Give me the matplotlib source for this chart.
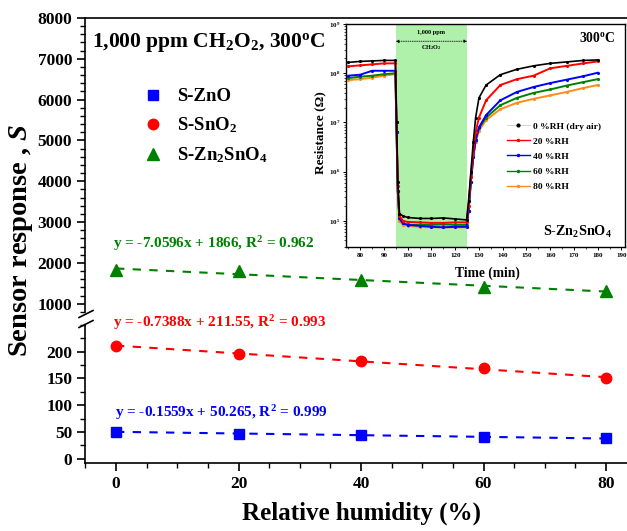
import numpy as np
import matplotlib
matplotlib.use("Agg")
import matplotlib.pyplot as plt
import matplotlib.ticker as mt
from matplotlib.lines import Line2D

plt.rcParams.update({
    'font.family': ['Liberation Serif', 'DejaVu Serif'],
    'font.weight': 'bold',
    'mathtext.fontset': 'custom',
    'mathtext.rm': 'Liberation Serif:bold',
    'mathtext.it': 'Liberation Serif:italic:bold',
    'mathtext.bf': 'Liberation Serif:bold',
    'mathtext.default': 'rm',
    'axes.linewidth': 1.2,
})

# ---------------- main data ----------------
rh = [0, 20, 40, 60, 80]
s_zno = [50, 47, 45, 41, 38]
s_sno2 = [210, 196, 182, 170, 151]
s_zto = [1835, 1795, 1590, 1410, 1315]

labels_main = ['S-ZnO', 'S-SnO$_2$', 'S-Zn$_2$SnO$_4$']
slopes = [-0.1559, -0.7388, -7.0596]
intercepts = [50.265, 211.55, 1866]
r2 = [0.999, 0.993, 0.962]

c_blue, c_red, c_green = '#0000ff', '#ff0000', '#008000'

# ---------------- inset data (log10 of resistance) ----------------
t_min = [75, 80, 85, 90, 94.8, 95.3, 95.8, 96.5, 98, 100, 105, 110, 115, 120, 124.8,
         125.6, 126.6, 127.6, 128.6, 130, 133, 139, 146, 153, 160, 167, 174, 180]
logR_0 = [8.22, 8.24, 8.25, 8.26, 8.26, 7.0, 5.8, 5.15, 5.1, 5.07, 5.05, 5.05, 5.06, 5.04, 5.02,
          5.4, 6.0, 6.6, 7.1, 7.5, 7.76, 7.97, 8.08, 8.15, 8.2, 8.23, 8.26, 8.27]
logR_20 = [8.14, 8.16, 8.18, 8.2, 8.2, 7.0, 5.7, 5.1, 5.0, 4.98, 4.97, 4.96, 4.96, 4.97, 4.97,
           5.3, 5.9, 6.4, 6.8, 7.1, 7.45, 7.76, 7.88, 7.95, 8.1, 8.15, 8.2, 8.24]
logR_40 = [7.95, 7.97, 8.05, 8.05, 8.05, 6.8, 5.6, 5.05, 4.95, 4.92, 4.9, 4.88, 4.87, 4.88, 4.88,
           5.2, 5.8, 6.3, 6.65, 6.9, 7.15, 7.45, 7.62, 7.72, 7.8, 7.87, 7.94, 8.01]
logR_60 = [7.9, 7.93, 7.95, 7.98, 8.0, 6.8, 5.6, 5.05, 4.95, 4.92, 4.92, 4.92, 4.93, 4.92, 4.92,
           5.2, 5.8, 6.3, 6.65, 6.88, 7.1, 7.35, 7.5, 7.6, 7.67, 7.75, 7.82, 7.88]
logR_80 = [7.86, 7.88, 7.91, 7.95, 7.98, 6.8, 5.6, 5.0, 4.92, 4.9, 4.88, 4.87, 4.87, 4.87, 4.87,
           5.2, 5.8, 6.3, 6.6, 6.83, 7.05, 7.27, 7.4, 7.48, 7.55, 7.62, 7.7, 7.76]
inset_labels = ['0 %RH (dry air)', '20 %RH', '40 %RH', '60 %RH', '80 %RH']
inset_colors = ['#000000', '#ff0000', '#0000ff', '#008000', '#ff8c1a']
gas_on, gas_off = 95, 125

# ---------------- figure ----------------
W, H = 627, 531
fig = plt.figure(figsize=(W / 100, H / 100), dpi=100)

def P(x, y):
    return x / W, 1 - y / H

L = 85.4 / W
Wd = 551.25 / W
ax_top = fig.add_axes([L, 1 - 312 / H, Wd, (312 - 18) / H])
ax_bot = fig.add_axes([L, 1 - 463 / H, Wd, (463 - 325) / H])

for ax in (ax_top, ax_bot):
    ax.set_xlim(-5, 85)
    ax.spines['right'].set_visible(False)
    ax.tick_params(which='major', direction='out', length=6, width=1.2, labelsize=12.5)
    ax.tick_params(which='minor', direction='out', length=3.5, width=1.0)
    ax.patch.set_alpha(0)
ax_top.spines['bottom'].set_visible(False)
ax_bot.spines['top'].set_visible(False)
ax_top.tick_params(which='both', bottom=False, labelbottom=False)

ax_top.set_ylim(800, 8000)
ax_top.set_yticks(range(1000, 8001, 1000))
ax_top.yaxis.set_minor_locator(mt.MultipleLocator(200))
ax_bot.set_ylim(-8, 250)
ax_bot.set_yticks(range(0, 201, 50))
ax_bot.yaxis.set_minor_locator(mt.MultipleLocator(25))
ax_bot.set_xticks(rh)
ax_bot.xaxis.set_minor_locator(mt.MultipleLocator(5))

xfit = np.array([rh[0], rh[-1]])
handles = []
for ax, ys, mk, ms, col, m, b in [
        (ax_bot, s_zno, 's', 7, c_blue, slopes[0], intercepts[0]),
        (ax_bot, s_sno2, 'o', 7.5, c_red, slopes[1], intercepts[1]),
        (ax_top, s_zto, '^', 8, c_green, slopes[2], intercepts[2])]:
    ax.plot(xfit, m * xfit + b, ls=(0, (4, 4)), color=col, lw=1.5, zorder=2)
    h, = ax.plot(rh, ys, mk, color=col, ms=ms, ls='none', zorder=3)
    handles.append(h)

def eq(m, b, r):
    return f"y = {m}x + {b}, R$^2$ = {r}"

ax_top.text(-0.5, 2480, eq(slopes[2], intercepts[2], r2[2]), color=c_green, fontsize=11, va='center')
ax_bot.text(-0.5, 254, eq(slopes[1], intercepts[1], r2[1]), color=c_red, fontsize=11, va='center', clip_on=False)
ax_bot.text(-0.2, 86, eq(slopes[0], intercepts[0], r2[0]), color=c_blue, fontsize=11, va='center')

ax_top.legend(handles, labels_main, loc='upper left', bbox_to_anchor=(0.106, 0.762),
              frameon=False, fontsize=13.5, handlelength=1.0, handletextpad=0.75,
              borderpad=0, borderaxespad=0, labelspacing=0.55, numpoints=1)

fig.text(*P(92, 42), '1,000 ppm CH$_2$O$_2$, 300$^o$C', fontsize=15.5, va='center', ha='left')
fig.text(*P(21, 240), 'Sensor response , $\\mathit{S}$', rotation=90, fontsize=20.5, ha='center', va='center')
fig.text(*P(361, 513), 'Relative humidity (%)', fontsize=18, ha='center', va='center')

# break marks
for yc in (314, 324):
    fig.add_artist(Line2D([79 / W, 93 / W], [1 - (yc + 3.5) / H, 1 - (yc - 3.5) / H], color='k', lw=1.2))

# ---------------- inset ----------------
axi = fig.add_axes([346 / W, 1 - 247 / H, 279 / W, 223 / H])
axi.set_yscale('log')
axi.set_xlim(74, 191.5)
axi.set_ylim(10 ** 4.47, 1e9)
axi.axvspan(gas_on, gas_off, color='#aff0aa', zorder=0, lw=0)
series = [logR_0, logR_20, logR_40, logR_60, logR_80]
order = [4, 3, 2, 1, 0]
for i in order:
    axi.plot(t_min, 10 ** np.array(series[i]), color=inset_colors[i], lw=1.4 if i else 1.2,
             marker='.', ms=2.5, zorder=3 + (5 - i))
leg_handles = [Line2D([], [], color='#cccccc', lw=0.6, marker='.', ms=4, mfc='k', mec='k')] + \
              [Line2D([], [], color=c, lw=1.0, marker='.', ms=3) for c in inset_colors[1:]]
axi.legend(leg_handles, inset_labels, loc='upper left', bbox_to_anchor=(0.577, 0.56),
           frameon=False, fontsize=6.8, handlelength=2.4, handletextpad=0.35,
           borderpad=0, borderaxespad=0, labelspacing=0.68, numpoints=1)

axi.xaxis.set_major_locator(mt.MultipleLocator(10))
axi.xaxis.set_minor_locator(mt.MultipleLocator(5))
axi.yaxis.set_major_locator(mt.LogLocator(base=10, numticks=20))
axi.yaxis.set_minor_locator(mt.LogLocator(base=10, subs=np.arange(2, 10), numticks=20))
axi.yaxis.set_minor_formatter(mt.NullFormatter())
axi.tick_params(which='major', direction='out', length=2.5, width=0.7, labelsize=5, pad=1.5)
axi.tick_params(which='minor', direction='out', length=1.5, width=0.5)
for s in axi.spines.values():
    s.set_linewidth(1.0)

axi.annotate('', xy=(gas_on, 10 ** 8.65), xytext=(gas_off, 10 ** 8.65),
             arrowprops=dict(arrowstyle='<|-|>', ls=':', lw=0.6, color='k',
                             shrinkA=0, shrinkB=0, mutation_scale=4))
axi.text((gas_on + gas_off) / 2, 10 ** 8.82, '1,000 ppm', fontsize=4.5, ha='center', va='center')
axi.text((gas_on + gas_off) / 2, 10 ** 8.52, 'CH$_2$O$_2$', fontsize=4.5, ha='center', va='center')
axi.text(0.964, 0.937, '300$^o$C', transform=axi.transAxes, fontsize=9.8, ha='right', va='center')
axi.text(0.953, 0.067, 'S-Zn$_2$SnO$_4$', transform=axi.transAxes, fontsize=10.2, ha='right', va='center')

fig.text(*P(487, 273), 'Time (min)', fontsize=9.75, ha='center', va='center')
fig.text(*P(320, 133), 'Resistance (\u03a9)', fontsize=9.5, rotation=90, ha='center', va='center')

fig.savefig('out.png', dpi=100)
